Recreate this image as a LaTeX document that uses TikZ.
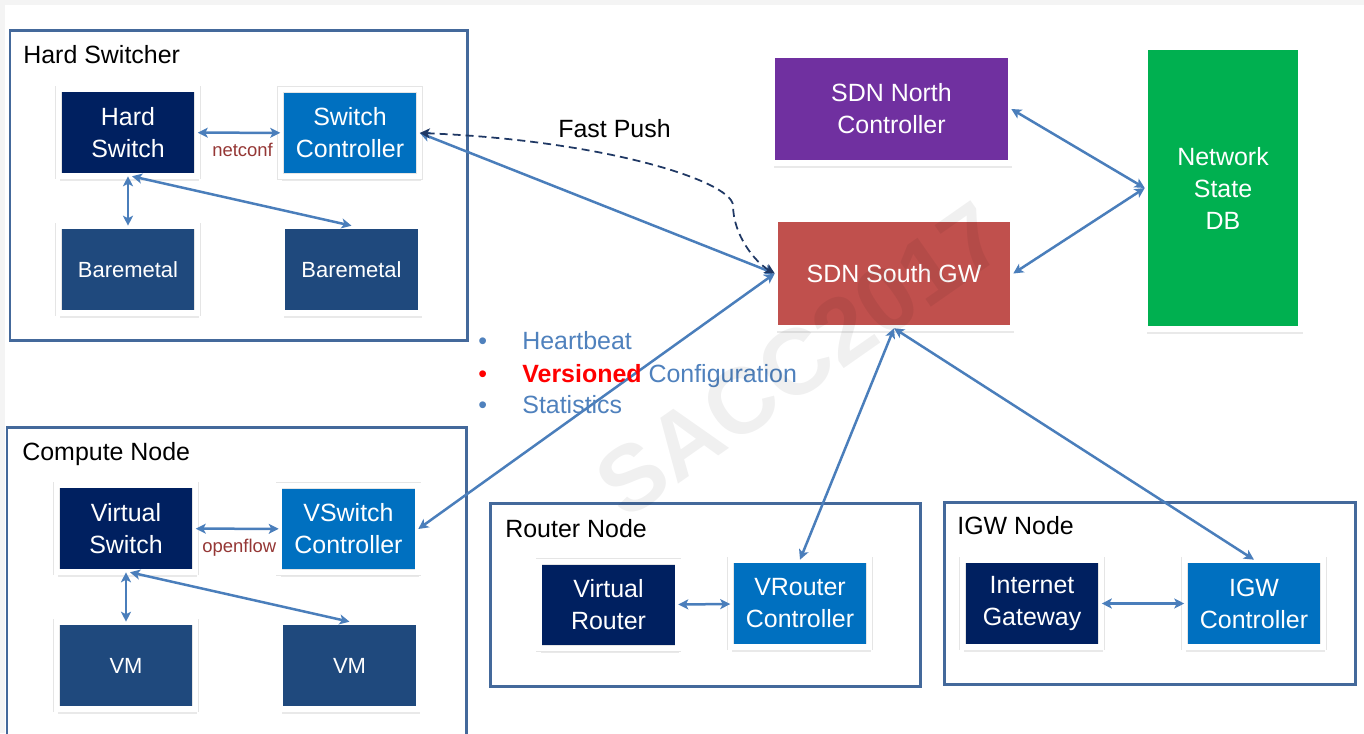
\documentclass[tikz,border=0pt]{standalone}
\usepackage{fontspec}
\setmainfont{Liberation Sans}
\usepackage{xcolor}
\usepackage{tikz}
\usetikzlibrary{positioning, shapes, arrows.meta, calc, shadows}

\definecolor{navy}{HTML}{002060}
\definecolor{ctlblue}{HTML}{0070C0}
\definecolor{metal}{HTML}{1F497D}
\definecolor{northpurple}{HTML}{7030A0}
\definecolor{southred}{HTML}{C0504D}
\definecolor{dbgreen}{HTML}{00B050}
\definecolor{grpblue}{HTML}{44699B}
\definecolor{linkblue}{HTML}{4A7EBB}
\definecolor{pushnavy}{HTML}{1F3864}
\definecolor{listblue}{HTML}{4F81BD}
\definecolor{protored}{HTML}{953735}
\definecolor{edgegray}{HTML}{F4F4F4}

\tikzset{
  grp/.style={draw=grpblue, line width=0.06cm},
  grptitle/.style={anchor=base west, inner sep=0, font=\fontsize{14.2}{17}\selectfont},
  blk/.style={draw=black!10, line width=0.012cm, double=white, double distance=0.11cm,
    text=white, align=center, inner sep=0,
    minimum width=2.78cm, minimum height=1.74cm, font=\fontsize{14.2}{18.2}\selectfont,
    drop shadow={shadow xshift=0.03cm, shadow yshift=-0.1cm, opacity=0.12, fill=black!70}},
  link/.style={<->, draw=linkblue, line width=0.05cm},
  proto/.style={anchor=base west, inner sep=0, text=protored, font=\fontsize{10.5}{12}\selectfont},
  item/.style={anchor=base west, inner sep=0, text=listblue, font=\fontsize{14.2}{17}\selectfont},
}

\begin{document}
\begin{tikzpicture}[x=0.02cm, y=-0.02cm, >={Stealth[length=0.2cm, width=0.2cm, inset=0.05cm]}]
      \useasboundingbox (0,0) rectangle (1364,733);
      \clip (0,0) rectangle (1364,733);
      \fill[edgegray] (0,0) rectangle (1364,733);
      \fill[white] (5,5) rectangle (1364,733);

      % groups
      \draw[grp] (10,31) rectangle (467,340);
      \draw[grp] (7,427) rectangle (466,750);
      \draw[grp] (490,503) rectangle (920,686);
      \draw[grp] (944,502) rectangle (1355,684);
      \node[grptitle] (t1) at (23,64) {Hard Switcher};
      \node[grptitle] (t2) at (22,460) {Compute Node};
      \node[grptitle] (t3) at (505,537) {Router Node};
      \node[grptitle] (t4) at (957,534) {IGW Node};

      % hard switcher
      \node[blk, fill=navy] (hsw) at (128,132.5) {Hard\\Switch};
      \node[blk, fill=ctlblue] (sctl) at (350,133) {Switch\\Controller};
      \node[blk, fill=metal, font=\fontsize{12.5}{15}\selectfont] (bm1) at (128,269.5) {Baremetal};
      \node[blk, fill=metal, font=\fontsize{12.5}{15}\selectfont] (bm2) at (351.5,269.5) {Baremetal};

      % compute node
      \node[blk, fill=navy] (vsw) at (126,528.5) {Virtual\\Switch};
      \node[blk, fill=ctlblue] (vctl) at (348.5,529) {VSwitch\\Controller};
      \node[blk, fill=metal, font=\fontsize{12.5}{15}\selectfont] (vm1) at (126,665.5) {VM};
      \node[blk, fill=metal, font=\fontsize{12.5}{15}\selectfont] (vm2) at (349.5,665.5) {VM};

      % router and igw nodes
      \node[blk, fill=navy] (vr) at (608.5,605) {Virtual\\Router};
      \node[blk, fill=ctlblue] (vrc) at (800,603.5) {VRouter\\Controller};
      \node[blk, fill=navy] (ig) at (1032,603.5) {Internet\\Gateway};
      \node[blk, fill=ctlblue] (igc) at (1254,603.5) {IGW\\Controller};

      % sdn side
      \node[blk, fill=northpurple, minimum width=4.78cm, minimum height=2.16cm] (north) at (891.5,109) {SDN North\\Controller};
      \node[blk, fill=southred, minimum width=4.76cm, minimum height=2.18cm] (south) at (894,273.5) {SDN South GW};
      \node[blk, fill=dbgreen, minimum width=3.12cm, minimum height=5.64cm] (db) at (1223,188) {Network\\State\\DB};

      % links
      \draw[link] (hsw) -- (sctl);
      \draw[link] (hsw.south) -- (bm1.north);
      \draw[link] ([xshift=0.08cm]hsw.south) -- (bm2.north);
      \draw[link] (vsw) -- (vctl);
      \draw[link] (vsw.south) -- (vm1.north);
      \draw[link] ([xshift=0.08cm]vsw.south) -- (vm2.north);
      \draw[link] (vr) -- (vrc);
      \draw[link] (ig) -- (igc);
      \draw[link] (sctl.east) -- (south.west);
      \draw[link] (vctl.east) -- (south.west);
      \draw[link] (south.south) -- (vrc.north);
      \draw[link] (south.south) -- (igc.north);
      \draw[link] (north.east) -- (db.west);
      \draw[link] (south.east) -- (db.west);
      \draw[<->, draw=pushnavy, line width=0.035cm, dash pattern=on 0.16cm off 0.1cm]
            (south.west) .. controls (755,262) and (733,235) .. (733,205)
            .. controls (730,180) and (600,140) .. (sctl.east);

      \node[proto] (nc) at (212,156) {netconf};
      \node[proto] (of) at (202,552) {openflow};
      \node[grptitle] (fp) at (558,138) {Fast Push};

      % message list
      \node[item] (hb) at (522,349) {Heartbeat};
      \node[item] (cfg) at (522,382) {\textcolor{red}{\bfseries Versioned} Configuration};
      \node[item] (stat) at (522,413) {Statistics};
      \node[item] (b1) at (478,349) {\textbullet};
      \node[item, text=red] (b2) at (478,382) {\textbullet};
      \node[item] (b3) at (478,413) {\textbullet};

      \node[rotate=35, text=black, opacity=0.06, font=\bfseries\fontsize{53}{53}\selectfont] (wm) at (800,360) {SACC2017};
    \end{tikzpicture}
\end{document}
